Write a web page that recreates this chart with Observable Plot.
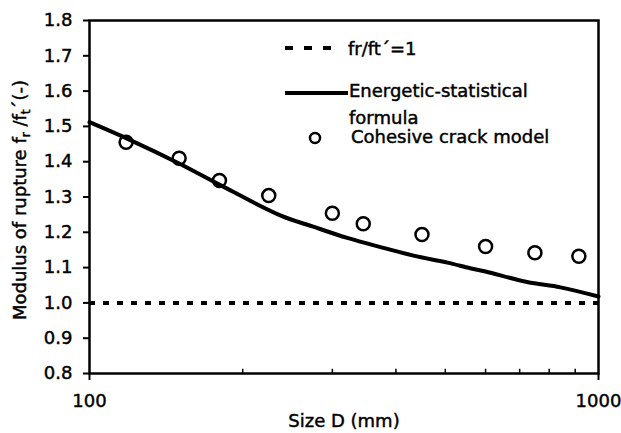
<!DOCTYPE html>
<html>
<head>
<meta charset="utf-8">
<script src="https://cdn.jsdelivr.net/npm/d3@7"></script>
<script src="https://cdn.jsdelivr.net/npm/@observablehq/plot@0.6"></script>
<style>
  html, body { margin: 0; padding: 0; background: #fff; }
  svg text { font-family: "DejaVu Sans", sans-serif; stroke: #000; stroke-width: 0.45px; }
</style>
</head>
<body>
<div id="chart"></div>
<script>
// Energetic-statistical formula (solid curve)
const curveD = [100, 120, 150, 180, 237, 275, 321, 373, 433, 505, 560, 600, 724, 842, 1000];
const curveV = [1.512, 1.462, 1.395, 1.335, 1.248, 1.216, 1.184, 1.158, 1.134, 1.114, 1.098, 1.089, 1.059, 1.044, 1.018];
// Cohesive crack model (circles)
const pointD = [118, 150, 180, 225, 300, 345, 450, 600, 750, 915];
const pointV = [1.455, 1.41, 1.347, 1.304, 1.254, 1.224, 1.194, 1.16, 1.142, 1.132];
// fr/ft' = 1 reference
const refValue = [1.0];
// ticks
const yTicks = [0.8, 0.9, 1.0, 1.1, 1.2, 1.3, 1.4, 1.5, 1.6, 1.7, 1.8];
const xMajorTicks = [100, 1000];
const xMinorTicks = [200, 300, 400, 500, 600, 700, 800, 900];
const legendLabels = ["fr/ft\u00B4=1", "Energetic-statistical", "formula", "Cohesive crack model"];

const curve = curveD.map((d, i) => ({D: d, v: curveV[i]}));
const points = pointD.map((d, i) => ({D: d, v: pointV[i]}));

const FS = 18;

const plot = Plot.plot({
  width: 621,
  height: 433,
  marginLeft: 89,
  marginRight: 23,
  marginTop: 20,
  marginBottom: 60,
  style: {fontFamily: "DejaVu Sans, sans-serif", fontSize: FS + "px", color: "#000", background: "#fff"},
  x: {type: "log", domain: [100, 1000]},
  y: {domain: [0.8, 1.8]},
  marks: [
    Plot.ruleY(refValue, {stroke: "#000", strokeWidth: 4, strokeDasharray: "6,8"}),
    Plot.line(curve, {x: "D", y: "v", stroke: "#000", strokeWidth: 4, curve: "catmull-rom"}),
    Plot.dot(points, {x: "D", y: "v", r: 6.5, stroke: "#000", strokeWidth: 2.5, fill: "none"}),
    Plot.frame({stroke: "#000", strokeWidth: 2.5}),
    Plot.axisY({ticks: yTicks, tickFormat: d => d.toFixed(1), tickSize: 6, tickPadding: 11, strokeWidth: 2, fontSize: FS, label: null}),
    Plot.axisX({ticks: xMajorTicks, tickFormat: d => String(d), tickSize: 7, tickPadding: 14, strokeWidth: 2, fontSize: FS, label: null}),
    Plot.ruleX(xMinorTicks, {x: d => d, y1: 0.8, y2: 0.812, stroke: "#000", strokeWidth: 1.5}),
    Plot.text(["Size D (mm)"], {frameAnchor: "bottom", dy: 48, fontSize: FS, fill: "#000", lineAnchor: "middle"})
  ]
});

const svg = d3.select(plot);
// y axis label with subscripts
const yl = svg.append("text")
  .attr("transform", "translate(19,200) rotate(-90)")
  .attr("text-anchor", "middle")
  .attr("dominant-baseline", "central")
  .attr("font-size", FS)
  .attr("fill", "#000");
yl.append("tspan").text("Modulus of rupture f");
yl.append("tspan").attr("baseline-shift", "sub").attr("font-size", 12).text("r");
yl.append("tspan").text(" /f");
yl.append("tspan").attr("baseline-shift", "sub").attr("font-size", 12).text("t");
yl.append("tspan").text("\u00B4(-)");

// legend
const lg = svg.append("g").attr("fill", "none").attr("stroke", "#000");
lg.append("line").attr("x1", 285).attr("x2", 332).attr("y1", 48).attr("y2", 48)
  .attr("stroke-width", 4).attr("stroke-dasharray", "8,11");
lg.append("line").attr("x1", 285).attr("x2", 348).attr("y1", 93).attr("y2", 93)
  .attr("stroke-width", 4);
lg.append("circle").attr("cx", 315).attr("cy", 138).attr("r", 5).attr("stroke-width", 2.5);
const lt = svg.append("g").attr("font-size", FS).attr("fill", "#000").attr("text-anchor", "start");
lt.append("text").attr("x", 348).attr("y", 55).text(legendLabels[0]);
lt.append("text").attr("x", 349).attr("y", 97).text(legendLabels[1]);
lt.append("text").attr("x", 349).attr("y", 124).text(legendLabels[2]);
lt.append("text").attr("x", 351).attr("y", 143).text(legendLabels[3]);

document.getElementById("chart").appendChild(plot);
</script>
</body>
</html>
